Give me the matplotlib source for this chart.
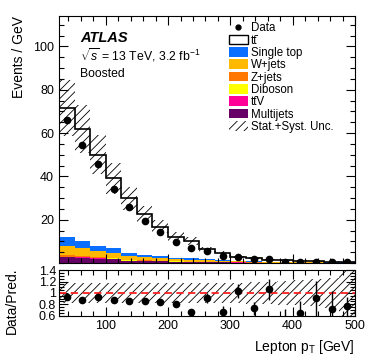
import numpy as np
import matplotlib
matplotlib.use("Agg")
import matplotlib.pyplot as plt
from matplotlib.patches import Patch
from matplotlib.lines import Line2D
from matplotlib.ticker import MultipleLocator, FixedLocator, FixedFormatter

plt.rcParams['font.family'] = ['Liberation Sans', 'DejaVu Sans']
plt.rcParams['mathtext.fontset'] = 'custom'
plt.rcParams['mathtext.rm'] = 'Liberation Sans'
plt.rcParams['mathtext.it'] = 'Liberation Sans:italic'
plt.rcParams['mathtext.bf'] = 'Liberation Sans:bold'
plt.rcParams['hatch.linewidth'] = 0.6

# ---------------- data ----------------
bin_edges = np.arange(25, 501, 25)
ttbar = [59.5, 51.4, 41.9, 32.3, 25.4, 18.8, 13.7, 9.6, 7.9, 4.5, 3.4, 1.85, 1.45, 0.92, 0.67, 0.52, 0.40, 0.30, 0.20]
singletop = [4.2, 3.5, 2.5, 2.0, 1.1, 0.9, 0.7, 0.55, 0.6, 0.5, 0.4, 0.3, 0.25, 0.2, 0.15, 0.12, 0.1, 0.08, 0.07]
wjets = [4.5, 3.7, 2.8, 2.4, 2.0, 1.55, 1.4, 1.15, 0.9, 0.75, 0.6, 0.45, 0.35, 0.28, 0.22, 0.18, 0.14, 0.12, 0.1]
zjets = [0.5, 0.4, 0.35, 0.3, 0.2, 0.15, 0.12, 0.1, 0.08, 0.07, 0.06, 0.05, 0.04, 0.03, 0.03, 0.02, 0.02, 0.02, 0.02]
diboson = [0.1, 0.1, 0.1, 0.08, 0.07, 0.06, 0.05, 0.05, 0.04, 0.03, 0.03, 0.02, 0.02, 0.02, 0.01, 0.01, 0.01, 0.01, 0.01]
ttv = [0.3, 0.3, 0.25, 0.2, 0.15, 0.12, 0.1, 0.08, 0.07, 0.06, 0.05, 0.04, 0.03, 0.03, 0.02, 0.02, 0.02, 0.02, 0.02]
multijets = [2.6, 2.3, 2.0, 1.8, 1.0, 0.9, 0.7, 0.6, 0.45, 0.35, 0.25, 0.2, 0.15, 0.12, 0.1, 0.08, 0.06, 0.05, 0.08]
data = [65.9, 54.3, 45.9, 34.0, 25.7, 19.4, 14.1, 9.8, 6.7, 5.7, 3.2, 3.0, 1.66, 1.7, 0.55, 0.62, 0.68, 0.43, 0.38]
data_err = [0.86, 0.8, 0.75, 0.66, 0.6, 0.56, 0.5, 0.42, 0.5, 0.57, 0.48, 0.35, 0.25, 0.3, 0.3, 0.2, 0.23, 0.19, 0.085]
rel_unc = [0.18, 0.18, 0.18, 0.18, 0.18, 0.18, 0.18, 0.18, 0.18, 0.18, 0.18, 0.18, 0.19, 0.20, 0.21, 0.22, 0.24, 0.26, 0.60]

labels = ['Multijets', 'tt\u0304V', 'Diboson', 'Z+jets', 'W+jets', 'Single top']
colors = ['#660066', '#ff0099', '#ffff00', '#ff7700', '#ffb900', '#0a6eff']
components = [multijets, ttv, diboson, zjets, wjets, singletop]

# ---------------- figure ----------------
fig = plt.figure(figsize=(3.74, 3.63), dpi=100)
W, H = 374.0, 363.0
ax = fig.add_axes([59/W, 1-263/H, (355-59)/W, (263-16)/H])
rax = fig.add_axes([59/W, 1-315.5/H, (355-59)/W, (315.5-270.3)/H])

edges = bin_edges
centers = 0.5 * (edges[:-1] + edges[1:])
bottom = np.zeros(len(centers))
for vals, col in zip(components, colors):
    v = np.array(vals)
    ax.stairs(bottom + v, edges, baseline=bottom.copy(), fill=True, color=col, lw=0)
    bottom = bottom + v
total = bottom + np.array(ttbar)
ax.stairs(total, edges, baseline=bottom.copy(), fill=True, color='white', lw=0)
ax.stairs(total, edges, baseline=None, color='black', lw=1.2)
unc = np.array(rel_unc)
ax.stairs(total * (1 + unc), edges, baseline=total * (1 - unc), fill=True,
          facecolor='none', edgecolor='black', hatch='////', lw=0)
ax.errorbar(centers, data, yerr=data_err, fmt='o', color='black', ms=4.5,
            capsize=0, elinewidth=1.0)

ax.set_xlim(25, 500)
ax.set_ylim(0, 114)
ax.yaxis.set_major_locator(FixedLocator([20, 40, 60, 80, 100]))
ax.yaxis.set_minor_locator(MultipleLocator(5))
ax.xaxis.set_major_locator(MultipleLocator(100))
ax.xaxis.set_minor_locator(MultipleLocator(20))
ax.tick_params(which='both', direction='in', top=True, right=True, labelsize=9)
ax.tick_params(which='major', length=6.5, width=0.8)
ax.tick_params(which='minor', length=3.3, width=0.8)
ax.tick_params(axis='x', labelbottom=False)
ax.set_ylabel('Events / GeV', fontsize=10, loc='top')
ax.yaxis.set_label_coords(-0.11, 1.0)

ax.text(0.072, 0.895, 'ATLAS', transform=ax.transAxes, fontsize=10.5,
        fontweight='bold', fontstyle='italic')
ax.text(0.072, 0.82, r'$\sqrt{s}$ = 13 TeV, 3.2 fb$^{-1}$', transform=ax.transAxes, fontsize=8.8)
ax.text(0.072, 0.755, 'Boosted', transform=ax.transAxes, fontsize=8.8)

handles = [Line2D([], [], marker='o', ls='none', color='black', ms=3.5),
           Patch(facecolor='white', edgecolor='black', lw=1.0)]
hlabels = ['Data', 'tt\u0304']
for lab, col in zip(labels[::-1], colors[::-1]):
    handles.append(Patch(facecolor=col, edgecolor='none'))
    hlabels.append(lab)
handles.append(Patch(facecolor='none', edgecolor='black', hatch='////', lw=0))
hlabels.append('Stat.+Syst. Unc.')
leg = ax.legend(handles, hlabels, loc='upper left', bbox_to_anchor=(0.575, 0.975),
                frameon=False, fontsize=8.3, labelspacing=0.03, handlelength=1.6,
                handleheight=0.9, handletextpad=0.3, borderaxespad=0, borderpad=0)

# ratio
ratio = np.array(data) / total
ratio_err = np.array(data_err) / total
rax.stairs(1 + unc, edges, baseline=1 - unc, fill=True, facecolor='none',
           edgecolor='black', hatch='////', lw=0)
rax.axhline(1.0, color='#ff2020', ls=(0, (4, 2.5)), lw=1.3)
rax.errorbar(centers, ratio, yerr=ratio_err, fmt='o', color='black', ms=4.5,
             capsize=0, elinewidth=1.0)
rax.set_xlim(25, 500)
rax.set_ylim(0.6, 1.4)
rax.yaxis.set_major_locator(FixedLocator([0.6, 0.8, 1.0, 1.2, 1.4]))
rax.yaxis.set_major_formatter(FixedFormatter(['0.6', '0.8', '1', '1.2', '1.4']))
rax.yaxis.set_minor_locator(MultipleLocator(0.05))
rax.xaxis.set_major_locator(MultipleLocator(100))
rax.xaxis.set_minor_locator(MultipleLocator(20))
rax.tick_params(which='both', direction='in', top=True, right=True, labelsize=9)
rax.tick_params(which='major', length=6.5, width=0.8)
rax.tick_params(which='minor', length=3.3, width=0.8)
rax.tick_params(axis='y', pad=2)
rax.set_xlabel(r'Lepton p$_\mathrm{T}$ [GeV]', fontsize=10, loc='right')
rax.set_ylabel('Data/Pred.', fontsize=10)
rax.yaxis.set_label_coords(-0.135, 0.32)

for a in (ax, rax):
    for s in a.spines.values():
        s.set_linewidth(0.8)

fig.savefig('out.png', dpi=100)
